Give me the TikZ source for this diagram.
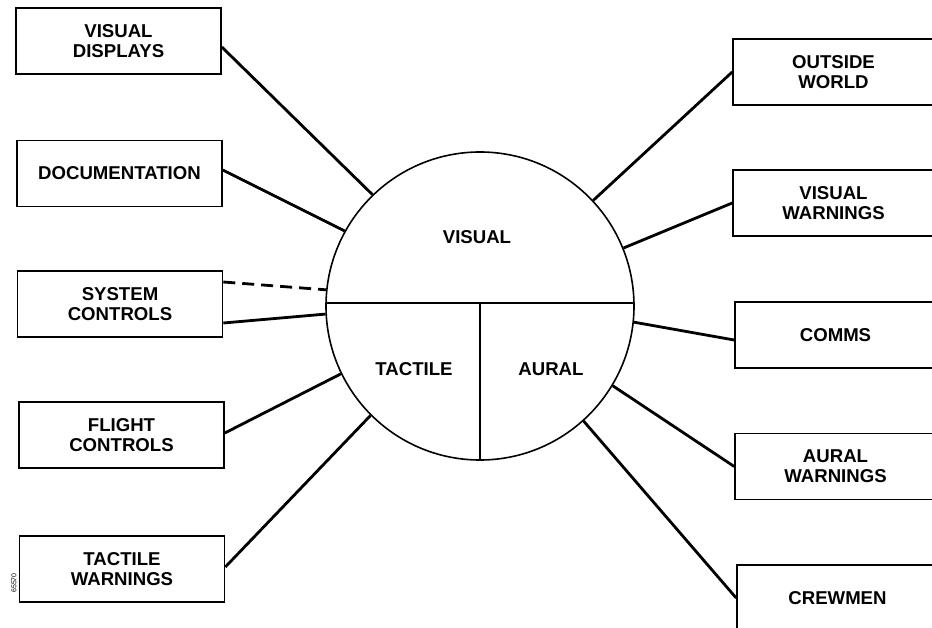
\documentclass[tikz,border=0pt]{standalone}
\usepackage{fontspec}
\setmainfont{Liberation Sans}
\usetikzlibrary{calc}
\begin{document}
\begin{tikzpicture}[x=1pt,y=-1pt,
  box/.style={draw,line width=1.6pt,minimum width=205pt,minimum height=66pt,
    inner sep=0pt,align=center,font=\fontsize{18.6}{20}\selectfont\bfseries},
  rbox/.style={box,minimum width=201pt},
  link/.style={line width=2.8pt},
  dlink/.style={link,dash pattern=on 12pt off 7pt},
  sector/.style={font=\fontsize{18.6}{20}\selectfont\bfseries}]
\useasboundingbox (0,0) rectangle (932,628);

% sensory channels
\node[draw,circle,line width=1.6pt,minimum size=308pt,inner sep=0pt] (c) at (480,306) {};
\coordinate (cl) at ($(c.center)+(-154,-3)$);
\coordinate (cr) at ($(c.center)+(154,-3)$);
\coordinate (cm) at ($(c.center)+(0,-3)$);
\draw[line width=1.6pt] (cl) -- (cr);
\draw[line width=1.6pt] (cm) -- (c.south);
\node[sector] (vis) at (477,237) {VISUAL};
\node[sector] (tac) at (414,369) {TACTILE};
\node[sector] (aur) at (551,369) {AURAL};

% information sources, left
\node[box] (vd)  at (118.5,41)  {VISUAL\\DISPLAYS};
\node[box] (doc) at (119.5,173.5) {DOCUMENTATION};
\node[box] (sc)  at (120,304)   {SYSTEM\\CONTROLS};
\node[box] (fc)  at (121.5,435) {FLIGHT\\CONTROLS};
\node[box] (tw)  at (122,569)   {TACTILE\\WARNINGS};

% information sources, right (running off the sheet edge)
\node[rbox] (ow)  at (833.5,72)   {OUTSIDE\\WORLD};
\node[rbox] (vw)  at (833.5,203)  {VISUAL\\WARNINGS};
\node[rbox] (com) at (835.5,335)  {COMMS};
\node[rbox] (aw)  at (835.5,466.5) {AURAL\\WARNINGS};
\node[rbox] (crw) at (837.5,598)  {CREWMEN};

% connections
\draw[link] ([yshift=-6pt]vd.east) -- (c.134.5);
\draw[link] ([yshift=3.5pt]doc.east) -- (c.151.5);
\draw[dlink] ([yshift=22pt]sc.east) -- (c.174.5);
\draw[link] ([yshift=-19pt]sc.east) -- (c.183);
\draw[link] ([yshift=2pt]fc.east) -- (c.206.7);
\draw[link] ([yshift=2pt]tw.east) -- (c.225.3);
\draw[link] (ow.west) -- (c.43.5);
\draw[link] (vw.west) -- (c.22.8);
\draw[link] ([yshift=-5pt]com.west) -- (c.-6.8);
\draw[link] (aw.west) -- (c.-31.9);
\draw[link] (crw.west) -- (c.-48.2);

% drawing number
\node[rotate=90,font=\fontsize{7}{8}\selectfont,inner sep=0pt] (num) at (14,583) {65570};
\end{tikzpicture}
\end{document}
